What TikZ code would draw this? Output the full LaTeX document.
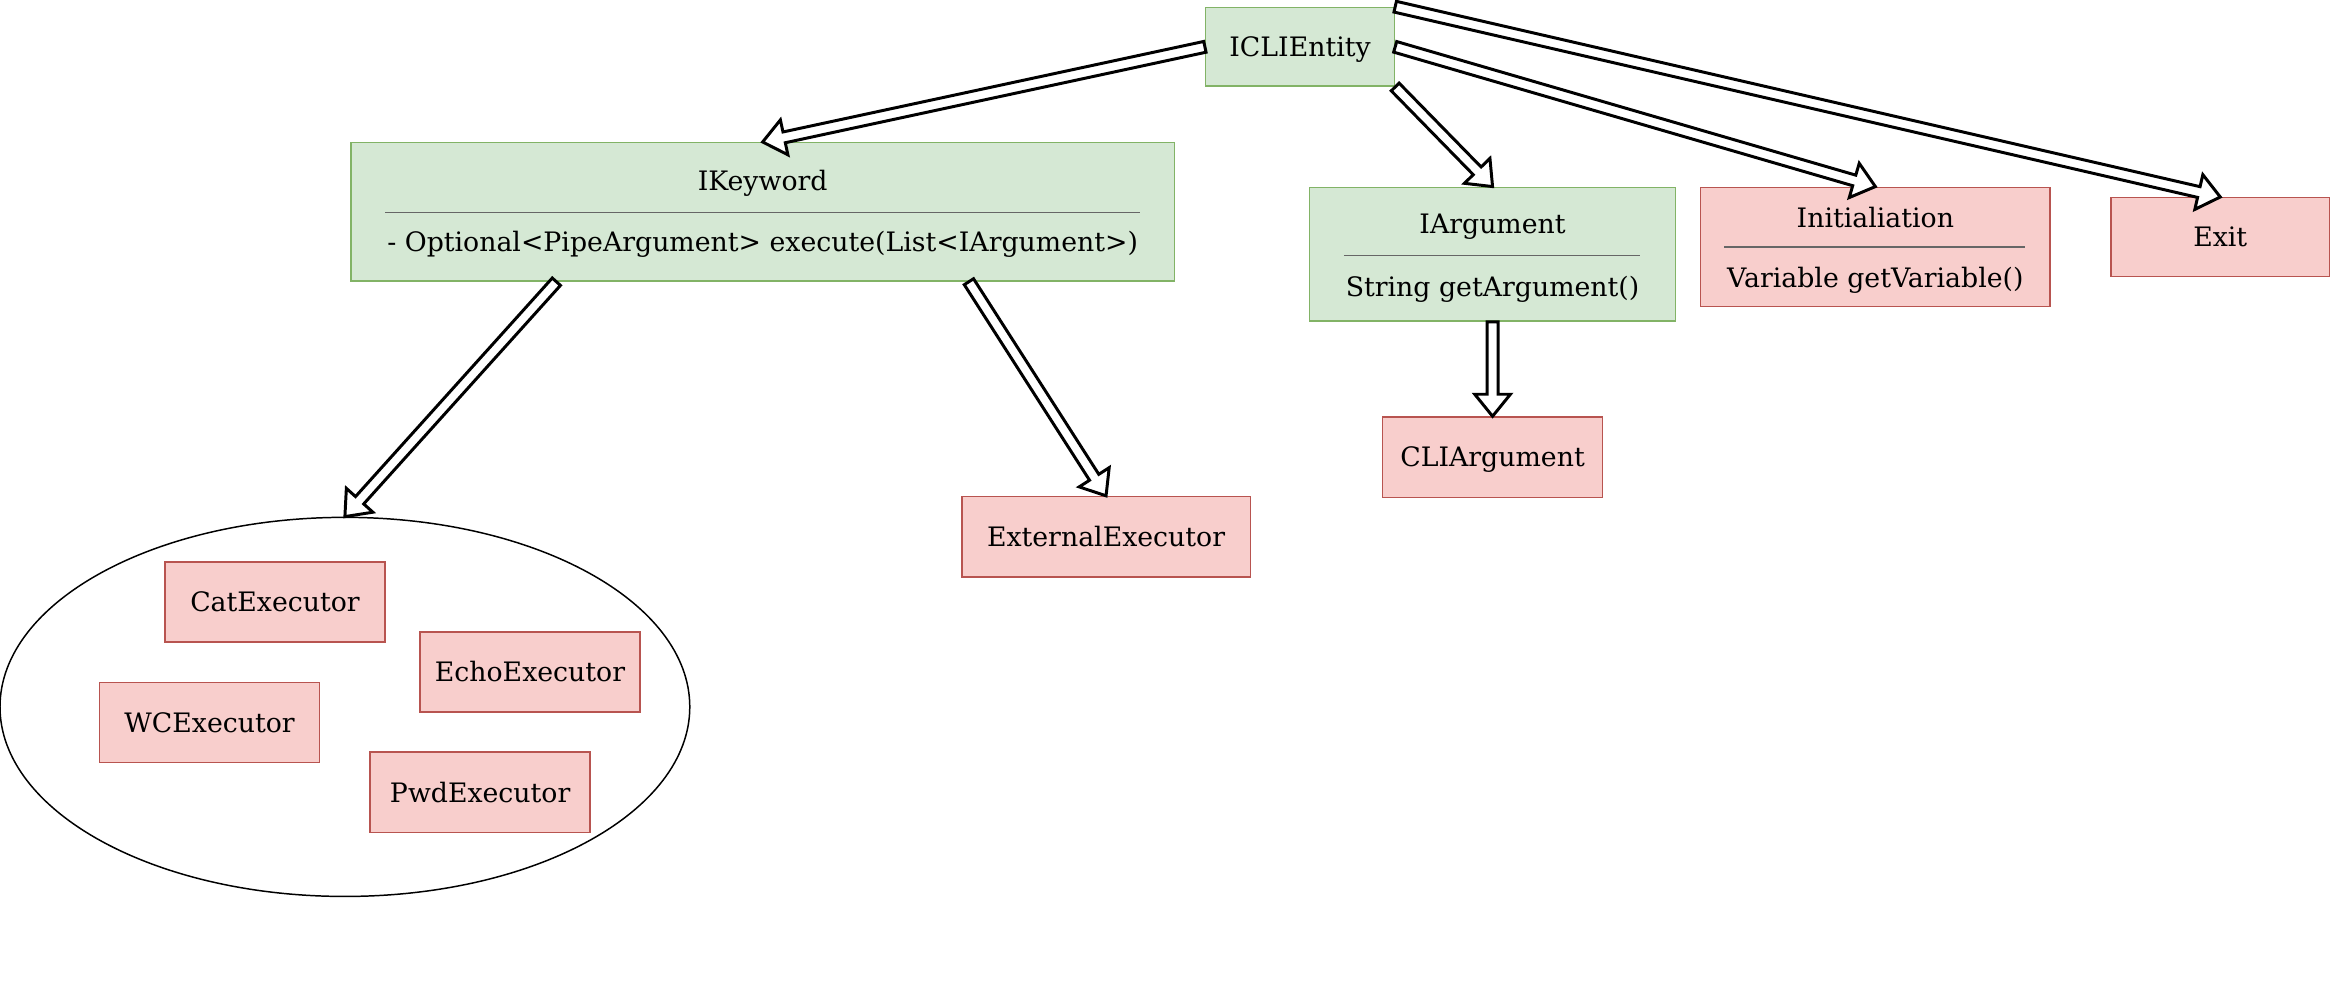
\documentclass[tikz,border=0pt]{standalone}
\usepackage{fontspec}
\setmainfont{DejaVu Serif}
\usepackage{xcolor}
\usepackage{tikz}
\usetikzlibrary{calc, shapes.geometric, positioning}

\definecolor{greenfill}{HTML}{D5E8D4}
\definecolor{greenline}{HTML}{82B366}
\definecolor{redfill}{HTML}{F8CECC}
\definecolor{redline}{HTML}{B85450}
\definecolor{sepline}{HTML}{666666}

\tikzset{
    iface/.style={rectangle, draw=greenline, fill=greenfill, line width=0.5pt, inner sep=0pt},
    impl/.style={rectangle, draw=redline, fill=redfill, line width=0.5pt, inner sep=0pt,
        minimum width=74pt, minimum height=27pt, font=\fontsize{9}{11}\selectfont,
        text height=0.9em, text depth=0.25em},
    txt/.style={inner sep=0pt, font=\fontsize{9}{11}\selectfont},
    sep/.style={draw=sepline, line width=0.5pt},
    hollow/.style={draw=black, fill=white, line width=1pt, line join=miter},
}

% Mũi tên rỗng (thân đôi, đầu tam giác)
\newcommand{\blockarrow}[2]{%
    \coordinate (ba-s) at (#1);
    \coordinate (ba-t) at (#2);
    \coordinate (ba-h) at ($(ba-t)!7.4pt!(ba-s)$);
    \draw[hollow] ($(ba-s)!1.85pt!90:(ba-t)$) -- ($(ba-h)!1.85pt!-90:(ba-s)$)
        -- ($(ba-h)!6pt!-90:(ba-s)$) -- (ba-t) -- ($(ba-h)!6pt!90:(ba-s)$)
        -- ($(ba-h)!1.85pt!90:(ba-s)$) -- ($(ba-s)!1.85pt!-90:(ba-t)$) -- cycle;
}

\begin{document}
\begin{tikzpicture}[x=0.5pt, y=-0.5pt]
    \useasboundingbox (0,0) rectangle (1568,671);

    % 1. Giao diện gốc
    \node[iface, minimum width=63.5pt, minimum height=26.5pt, font=\fontsize{9}{11}\selectfont,
        text height=0.9em, text depth=0.25em] (icli) at (874.5,31.5) {ICLIEntity};

    % 2. Các lớp có phương thức
    \node[iface, minimum width=277pt, minimum height=46.5pt] (ikw) at (513,142.5) {};
    \node[txt] (ikw-name) at (513,123.5) {IKeyword};
    \draw[sep] (259,143) -- (767,143);
    \node[txt] (ikw-op) at (513,164.5) {- Optional<PipeArgument> execute(List<IArgument>)};

    \node[iface, minimum width=123pt, minimum height=45pt] (iarg) at (1004,171) {};
    \node[txt] (iarg-name) at (1004,152.5) {IArgument};
    \draw[sep] (904,172) -- (1103,172);
    \node[txt] (iarg-op) at (1004,194.5) {String getArgument()};

    \node[impl, minimum width=117.5pt, minimum height=40pt] (init) at (1261.5,166) {};
    \node[txt] (init-name) at (1261.5,146.5) {Initialiation};
    \draw[sep] (1160,166) -- (1362,166);
    \node[txt] (init-op) at (1261.5,188.5) {Variable getVariable()};

    \node[impl, minimum width=73.5pt, minimum height=26.5pt] (exit) at (1493.5,159.5) {Exit};

    % 3. Các lớp cài đặt
    \node[impl] (cli) at (1004,307.5) {CLIArgument};
    \node[impl, minimum width=97pt] (ext) at (744,361) {ExternalExecutor};

    \node[ellipse, draw=black, line width=0.5pt, minimum width=232pt, minimum height=127.5pt,
        inner sep=0pt] (execs) at (232,475.5) {};
    \node[impl] (cat) at (185,405) {CatExecutor};
    \node[impl] (echo) at (356.5,452) {EchoExecutor};
    \node[impl] (wc) at (141,486) {WCExecutor};
    \node[impl] (pwd) at (323,533) {PwdExecutor};

    % 4. Mũi tên kế thừa
    \blockarrow{icli.west}{ikw.north}
    \blockarrow{icli.south east}{iarg.north}
    \blockarrow{icli.east}{init.north}
    \blockarrow{icli.north east}{exit.north}
    \blockarrow{$(ikw.south west)!0.25!(ikw.south east)$}{execs.north}
    \blockarrow{$(ikw.south west)!0.75!(ikw.south east)$}{ext.north}
    \blockarrow{iarg.south}{cli.north}
\end{tikzpicture}
\end{document}
